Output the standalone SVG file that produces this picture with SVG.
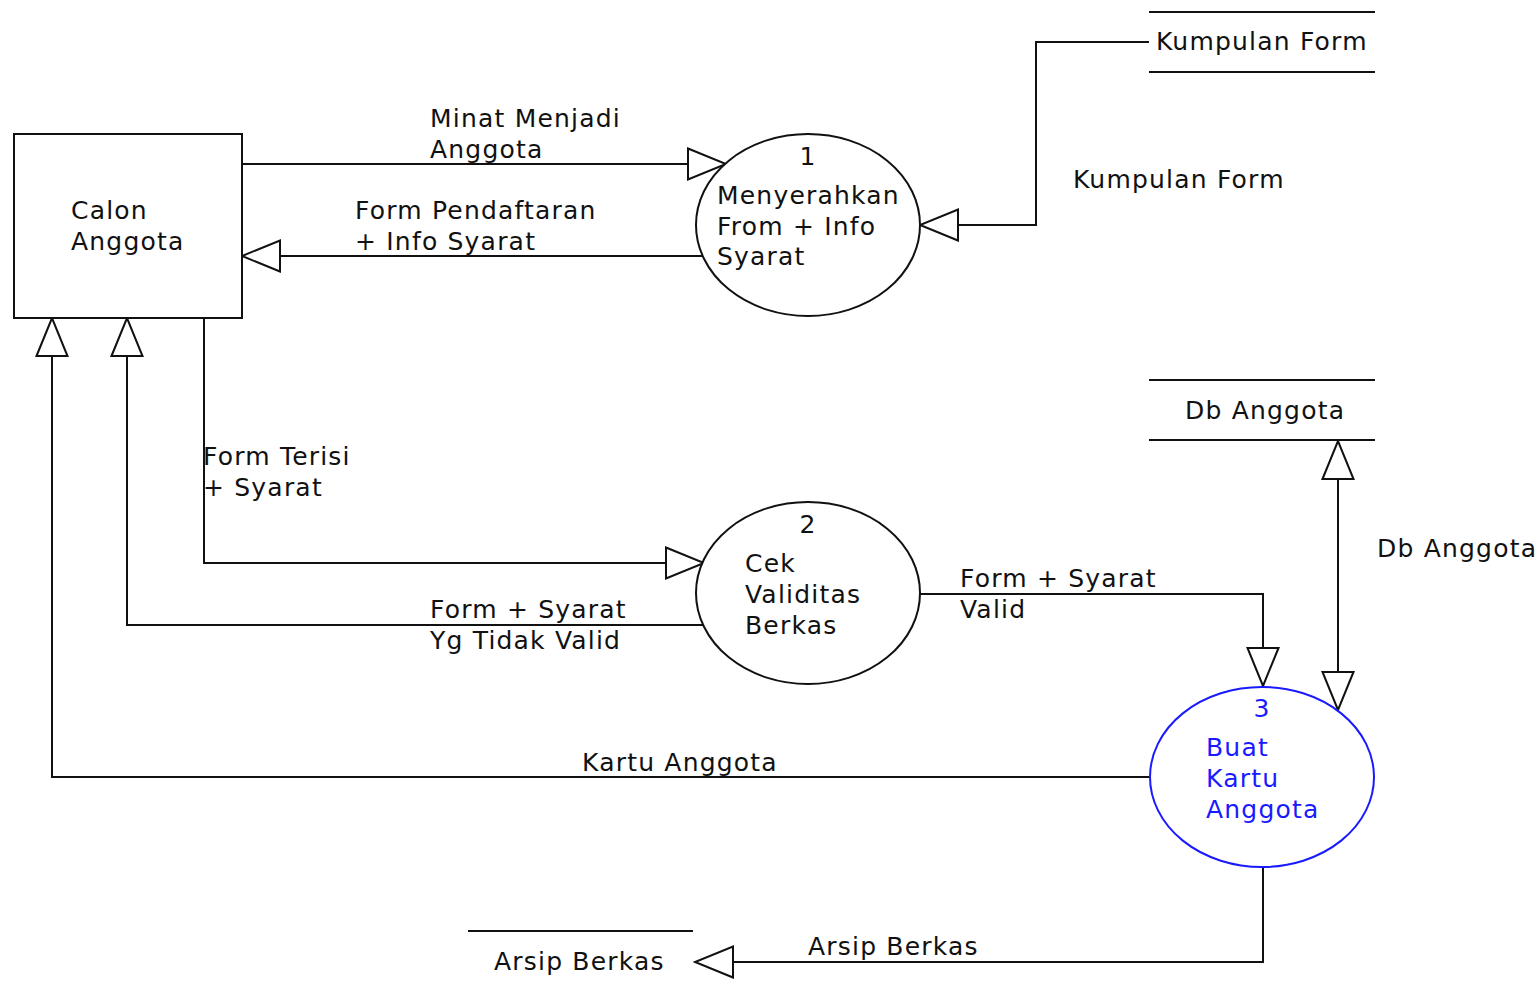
<svg xmlns="http://www.w3.org/2000/svg" width="1539" height="990" viewBox="0 0 1539 990">
<style>
text{font-family:"DejaVu Sans","Liberation Sans",sans-serif;font-size:25px;letter-spacing:1.2px;fill:#111}
.blue{fill:#1a1aff}
.shape{fill:#fff;stroke:#111;stroke-width:2}
.store{stroke:#111;stroke-width:2}
.flow{fill:none;stroke:#111;stroke-width:2}
</style>
<defs>
<marker id="ah" markerUnits="userSpaceOnUse" markerWidth="42" markerHeight="35" refX="38" refY="15.5" orient="auto-start-reverse" viewBox="-2 -2 42 35">
<path d="M0,0 L38,15.5 L0,31 Z" fill="#fff" stroke="#111" stroke-width="2"/>
</marker>
</defs>
<rect width="1539" height="990" fill="#fff"/>
<g id="connectors">
<path class="flow" d="M242,164 H726" marker-end="url(#ah)"/>
<path class="flow" d="M705,256 H242" marker-end="url(#ah)"/>
<path class="flow" d="M1149,42 H1036 V225 H920" marker-end="url(#ah)"/>
<path class="flow" d="M204,318 V563 H704" marker-end="url(#ah)"/>
<path class="flow" d="M703,625 H127 V318" marker-end="url(#ah)"/>
<path class="flow" d="M920,594 H1263 V686" marker-end="url(#ah)"/>
<path class="flow" d="M1338,710 V441" marker-start="url(#ah)" marker-end="url(#ah)"/>
<path class="flow" d="M1150,777 H52 V318" marker-end="url(#ah)"/>
<path class="flow" d="M1263,867 V962 H695" marker-end="url(#ah)"/>
<text x="430" y="127">Minat Menjadi</text>
<text x="430" y="158">Anggota</text>
<text x="355" y="219">Form Pendaftaran</text>
<text x="355" y="250">+ Info Syarat</text>
<text x="1073" y="188">Kumpulan Form</text>
<text x="1377" y="557">Db Anggota</text>
<text x="203" y="465">Form Terisi</text>
<text x="203" y="496">+ Syarat</text>
<text x="960" y="587">Form + Syarat</text>
<text x="960" y="618">Valid</text>
<text x="430" y="618">Form + Syarat</text>
<text x="430" y="649">Yg Tidak Valid</text>
<text x="582" y="771">Kartu Anggota</text>
<text x="808" y="955">Arsip Berkas</text>
</g>
<g id="calon-anggota">
<rect class="shape" x="14" y="134" width="228" height="184"/>
<text x="71" y="219">Calon</text>
<text x="71" y="250">Anggota</text>
</g>
<g id="proses-1">
<ellipse class="shape" cx="808" cy="225" rx="112" ry="91"/>
<text x="808" y="165" text-anchor="middle">1</text>
<text x="717" y="204">Menyerahkan</text>
<text x="717" y="235">From + Info</text>
<text x="717" y="265">Syarat</text>
</g>
<g id="proses-2">
<ellipse class="shape" cx="808" cy="593" rx="112" ry="91"/>
<text x="808" y="533" text-anchor="middle">2</text>
<text x="745" y="572">Cek</text>
<text x="745" y="603">Validitas</text>
<text x="745" y="634">Berkas</text>
</g>
<g id="proses-3">
<ellipse cx="1262" cy="777" rx="112" ry="90" fill="#fff" stroke="#1a1aff" stroke-width="2"/>
<text class="blue" x="1262" y="717" text-anchor="middle">3</text>
<text class="blue" x="1206" y="756">Buat</text>
<text class="blue" x="1206" y="787">Kartu</text>
<text class="blue" x="1206" y="818">Anggota</text>
</g>
<g id="store-kumpulan-form">
<line class="store" x1="1149" y1="12" x2="1375" y2="12"/>
<line class="store" x1="1149" y1="72" x2="1375" y2="72"/>
<text x="1156" y="50">Kumpulan Form</text>
</g>
<g id="store-db-anggota">
<line class="store" x1="1149" y1="380" x2="1375" y2="380"/>
<line class="store" x1="1149" y1="440" x2="1375" y2="440"/>
<text x="1185" y="419">Db Anggota</text>
</g>
<g id="store-arsip-berkas">
<line class="store" x1="468" y1="931" x2="693" y2="931"/>
<text x="494" y="970">Arsip Berkas</text>
</g>
</svg>
